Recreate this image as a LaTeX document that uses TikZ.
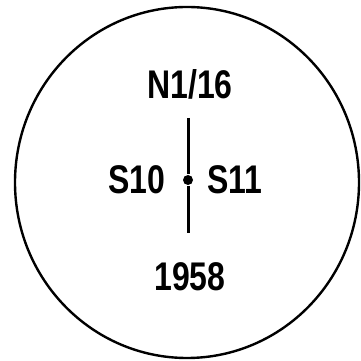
\documentclass[tikz,border=0pt]{standalone}
\usepackage{fontspec}
\setmainfont{Liberation Sans}
\begin{document}
\begin{tikzpicture}[x=1pt, y=1pt, line width=2.4pt,
  lbl/.style={font=\fontsize{40}{40}\selectfont\bfseries, inner sep=0pt, xscale=0.8, transform shape}]
  \useasboundingbox (0,0) rectangle (360,361);
  % outer ring
  \draw (187,178.5) ellipse [x radius=172, y radius=175.5];
  % divider with centre dot
  \coordinate (top) at (188,243);
  \coordinate (bot) at (188,128);
  \node[circle, fill, inner sep=0pt, minimum size=10pt] (dot) at (188,181) {};
  \draw[line width=3pt] (top) -- (dot) -- (bot);
  % labels
  \node[lbl] (north) at (190,277) {N1/16};
  \node[lbl] (left) at (137,181) {S10};
  \node[lbl] (right) at (235,181) {S11};
  \node[lbl] (year) at (190,84) {1958};
\end{tikzpicture}
\end{document}
